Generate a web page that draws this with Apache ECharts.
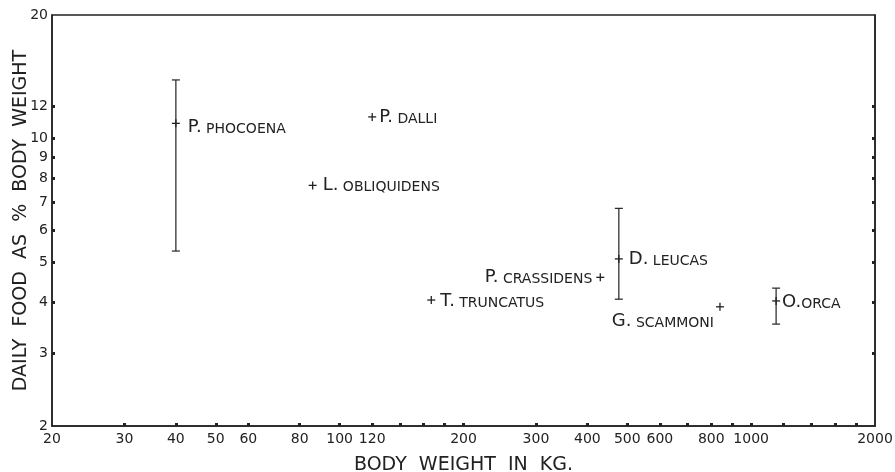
<!DOCTYPE html>
<html>
<head>
<meta charset="utf-8">
<script src="https://cdn.jsdelivr.net/npm/echarts@6/dist/echarts.min.js"></script>
<style>
  html, body { margin: 0; padding: 0; background: #fff; }
  #main { width: 895px; height: 472px; }
</style>
</head>
<body>
<div id="main"></div>
<script>
// species (genus initial, species name in small caps)
var genus = ["P.", "P.", "L.", "T.", "P.", "D.", "G.", "O."];
var names = ["PHOCOENA", "DALLI", "OBLIQUIDENS", "TRUNCATUS", "CRASSIDENS", "LEUCAS", "SCAMMONI", "ORCA"];
// body weight in kg
var weight = [40, 120, 86, 167, 430, 477, 840, 1150];
// daily food as % body weight, with range where one is drawn
var food = [10.9, 11.3, 7.7, 4.05, 4.6, 5.1, 3.9, 4.03];
var foodLow = [5.33, null, null, null, null, 4.07, null, 3.54];
var foodHigh = [13.9, null, null, null, null, 6.77, null, 4.33];

// axis ticks / labels
var xTickValues = [30, 40, 50, 60, 80, 100, 120, 140, 160, 180, 200, 300, 400, 500, 600, 700, 800, 900, 1000, 1200, 1400, 1600, 1800];
var xLabelValues = [20, 30, 40, 50, 60, 80, 100, 120, 200, 300, 400, 500, 600, 800, 1000, 2000];
var yTickValues = [3, 4, 5, 6, 7, 8, 9, 10, 12];
var yLabelValues = [2, 3, 4, 5, 6, 7, 8, 9, 10, 12, 20];

// label placement: [dx, dy, align, gap between initial and name]
var labelPlace = [
  [12, 4, "left", " "],
  [7, 0, "left", " "],
  [10, 0, "left", " "],
  [9, 1, "left", " "],
  [-8, 0, "right", " "],
  [10, 0, "left", " "],
  [-6, 15, "right", " "],
  [6, 1, "left", ""]
];

var ink = "#222";
var font = "DejaVu Sans";

var myChart = echarts.init(document.getElementById("main"));

var pts = weight.map(function (w, i) { return [w, food[i]]; });

function seg(x1, y1, x2, y2, w) {
  return { type: "line", shape: { x1: x1, y1: y1, x2: x2, y2: y2 }, style: { stroke: ink, lineWidth: w || 1.3 } };
}

var option = {
  backgroundColor: "#fff",
  animation: false,
  grid: {
    left: 52, right: 20, top: 15, bottom: 46,
    outerBoundsMode: "none",
    show: true, borderColor: ink, borderWidth: 1.5
  },
  xAxis: {
    type: "log",
    logBase: 10,
    min: 20,
    max: 2000,
    name: "BODY  WEIGHT  IN  KG.",
    nameLocation: "middle",
    nameGap: 30,
    nameMoveOverlap: false,
    nameTextStyle: { fontFamily: font, fontSize: 19, color: ink },
    axisLine: { show: true, lineStyle: { color: ink, width: 1.5 } },
    axisTick: {
      show: true, inside: true, length: 3,
      lineStyle: { color: ink, width: 3 },
      customValues: xTickValues
    },
    axisLabel: {
      fontFamily: font, fontSize: 14, color: ink, margin: 6,
      customValues: xLabelValues,
      formatter: function (v) { return String(Math.round(v)); }
    },
    splitLine: { show: false },
    minorTick: { show: false }
  },
  yAxis: [{
    type: "log",
    logBase: 10,
    min: 2,
    max: 20,
    name: "DAILY  FOOD  AS  %  BODY  WEIGHT",
    nameLocation: "middle",
    nameGap: 21,
    nameMoveOverlap: false,
    nameTextStyle: { fontFamily: font, fontSize: 19, color: ink },
    axisLine: { show: true, lineStyle: { color: ink, width: 1.5 } },
    axisTick: {
      show: true, inside: true, length: 3,
      lineStyle: { color: ink, width: 3 },
      customValues: yTickValues
    },
    axisLabel: {
      fontFamily: font, fontSize: 14, color: ink, margin: 4,
      customValues: yLabelValues,
      formatter: function (v) { return String(Math.round(v)); }
    },
    splitLine: { show: false }
  }, {
    type: "log",
    logBase: 10,
    min: 2,
    max: 20,
    position: "right",
    axisLine: { show: true, lineStyle: { color: ink, width: 1.5 } },
    axisTick: {
      show: true, inside: true, length: 3,
      lineStyle: { color: ink, width: 3 },
      customValues: yTickValues
    },
    axisLabel: { show: false },
    splitLine: { show: false }
  }],
  series: [{
    type: "custom",
    coordinateSystem: "cartesian2d",
    encode: { x: 0, y: 1 },
    data: pts,
    renderItem: function (params, api) {
      var i = params.dataIndex;
      var p = api.coord([weight[i], food[i]]);
      var c = [
        seg(p[0] - 4, p[1], p[0] + 4, p[1]),
        seg(p[0], p[1] - 4, p[0], p[1] + 4)
      ];
      if (foodLow[i] != null) {
        var lo = api.coord([weight[i], foodLow[i]]);
        var hi = api.coord([weight[i], foodHigh[i]]);
        c.push(seg(lo[0], lo[1], hi[0], hi[1], 1.2));
        c.push(seg(lo[0] - 4, lo[1], lo[0] + 4, lo[1], 1.2));
        c.push(seg(hi[0] - 4, hi[1], hi[0] + 4, hi[1], 1.2));
      }
      var lp = labelPlace[i];
      c.push({
        type: "text",
        x: p[0] + lp[0],
        y: p[1] + lp[1],
        style: {
          text: "{a|" + genus[i] + "}{b|" + lp[3] + names[i] + "}",
          align: lp[2],
          verticalAlign: "middle",
          rich: {
            a: { fontFamily: font, fontSize: 18, lineHeight: 18, fill: ink, verticalAlign: "bottom" },
            b: { fontFamily: font, fontSize: 14, lineHeight: 15, fill: ink, verticalAlign: "bottom" }
          }
        }
      });
      return { type: "group", children: c };
    }
  }]
};

myChart.setOption(option);
</script>
</body>
</html>
